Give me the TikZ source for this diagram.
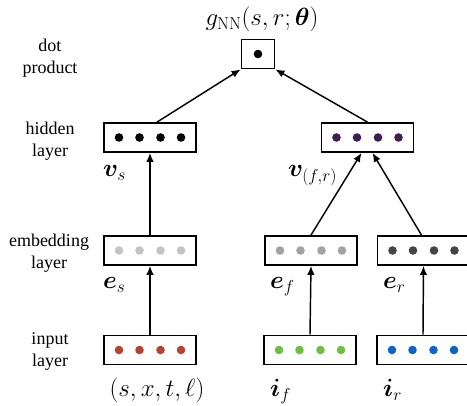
\documentclass[tikz,border=0pt]{standalone}
\usepackage[no-math]{fontspec}
\setmainfont{Liberation Serif}
\usepackage{amsmath,bm}
\usetikzlibrary{arrows.meta}
\definecolor{hidL}{HTML}{000000}
\definecolor{hidR}{HTML}{3F1F52}
\definecolor{embL}{HTML}{C4C4C4}
\definecolor{embF}{HTML}{A2A2A2}
\definecolor{embR}{HTML}{45464C}
\definecolor{inL}{HTML}{B5432F}
\definecolor{inF}{HTML}{6CBF40}
\definecolor{inR}{HTML}{0F64C8}
\tikzset{
  vecbox/.style={draw, line width=1.8pt, minimum width=92pt, minimum height=29pt, inner sep=0pt},
  prodbox/.style={draw, line width=1.8pt, minimum width=33pt, minimum height=29pt, inner sep=0pt},
  conn/.style={line width=1.45pt, -{Latex[length=9pt,width=7.5pt]}},
  side/.style={align=center, font=\fontsize{18}{22}\selectfont, inner sep=0pt},
  mlab/.style={font=\fontsize{25}{30}\selectfont, inner sep=0pt},
}
\newcommand\rowdots[2]{\foreach \dd in {-31,-10.5,10.5,31}{\fill[#2] ([xshift=\dd pt]#1.center) circle (4.3pt);}}
\begin{document}
\begin{tikzpicture}[x=1pt,y=-1pt]
\useasboundingbox (0,0) rectangle (467,406);
\clip (0,0) rectangle (467,406);
% boxes
\node[prodbox] (dot) at (258,54) {};
\fill (dot.center) circle (4.3pt);
\node[vecbox] (hl) at (150,137.5) {};
\node[vecbox] (hr) at (367.5,137.5) {};
\node[vecbox] (el) at (150,250.5) {};
\node[vecbox] (ef) at (311,250.5) {};
\node[vecbox] (er) at (423.5,250.5) {};
\node[vecbox] (il) at (150,350) {};
\node[vecbox] (if) at (310,350) {};
\node[vecbox] (ir) at (423,350) {};
\rowdots{hl}{hidL}
\rowdots{hr}{hidR}
\rowdots{el}{embL}
\rowdots{ef}{embF}
\rowdots{er}{embR}
\rowdots{il}{inL}
\rowdots{if}{inF}
\rowdots{ir}{inR}
% connectors
\draw[conn] ([xshift=7pt]hl.north) -- (dot.south west);
\draw[conn] (hr.north) -- (dot.south east);
\draw[conn] (el.north) -- (hl.south);
\draw[conn] (ef.north) -- ([xshift=-6pt]hr.south);
\draw[conn] ([xshift=-2pt]er.north) -- ([xshift=5pt]hr.south);
\draw[conn] (il.north) -- (el.south);
\draw[conn] (if.north) -- (ef.south);
\draw[conn] (ir.north) -- (er.south);
% math labels
\node[mlab, anchor=base] (title) at (262,26) {$g_{\mathrm{NN}}(s,r;\bm{\theta})$};
\node[mlab, anchor=base west] (vs) at (103,177) {$\bm{v}_s$};
\node[mlab, anchor=base west] (vfr) at (288,177) {$\bm{v}_{(f,r)}$};
\node[mlab, anchor=base west] (es) at (103,289) {$\bm{e}_s$};
\node[mlab, anchor=base west] (efl) at (270,289) {$\bm{e}_f$};
\node[mlab, anchor=base west] (erl) at (383,289) {$\bm{e}_r$};
\node[mlab, anchor=base] (tup) at (157,397) {$(s,x,t,\ell)$};
\node[mlab, anchor=base west] (ifl) at (270,397) {$\bm{i}_f$};
\node[mlab, anchor=base west] (irl) at (383,397) {$\bm{i}_r$};
% side labels
\node[side] (sdot) at (50,58) {dot\\product};
\node[side] (shid) at (50,141) {hidden\\layer};
\node[side] (semb) at (49,253) {embedding\\layer};
\node[side] (sin) at (50,351) {input\\layer};
\end{tikzpicture}
\end{document}
